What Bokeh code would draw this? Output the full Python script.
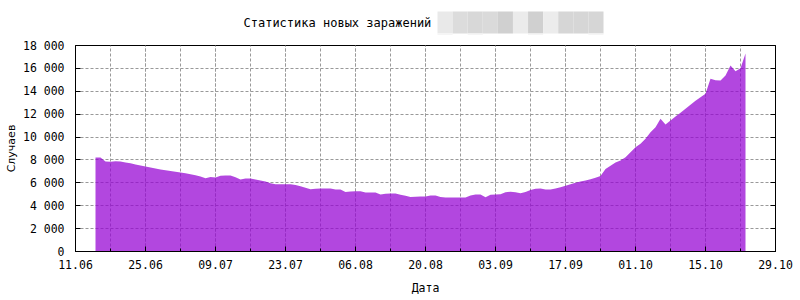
import pandas as pd
from bokeh.plotting import figure
from bokeh.layouts import column
from bokeh.core.properties import value
from bokeh.models import FixedTicker, DatetimeTickFormatter, Range1d, LinearAxis
from bokeh.embed import file_html
from bokeh.resources import INLINE

# ---- data ----
title_text = "Статистика новых заражений"
x_label = "Дата"
y_label = "Случаев"
first_date = "2020-06-15"
cases = [
    8210, 8210, 7870, 7840, 7890, 7870, 7780, 7720, 7600, 7515,
    7430, 7340, 7250, 7165, 7100, 7040, 6970, 6900, 6830, 6750,
    6660, 6560, 6400, 6520, 6470, 6620, 6640, 6640, 6480, 6290,
    6380, 6380, 6290, 6200, 6110, 5960, 5870, 5870, 5870, 5870,
    5800, 5700, 5570, 5440, 5480, 5500, 5500, 5500, 5420, 5420,
    5200, 5250, 5270, 5270, 5160, 5150, 5150, 4980, 5050, 5070,
    5070, 4950, 4870, 4760, 4780, 4800, 4800, 4890, 4890, 4760,
    4720, 4720, 4720, 4720, 4720, 4900, 4980, 4980, 4750, 4960,
    4980, 5000, 5180, 5220, 5180, 5100, 5200, 5380, 5480, 5500,
    5420, 5420, 5500, 5620, 5740, 5880, 6000, 6120, 6200, 6320,
    6440, 6600, 7200, 7500, 7780, 7950, 8240, 8680, 9100, 9410,
    9850, 10430, 10860, 11590, 11100, 11450, 11800, 12120, 12470, 12820,
    13170, 13480, 13780, 15090, 14970, 14940, 15380, 16250, 15760, 16020,
    17300,
]
x_start = "2020-06-11"
x_end = "2020-10-29"
y_max = 18000
y_step = 2000
redaction_greys = ["#e9e9e9", "#dcdcdc", "#d8d8d8", "#dadada", "#d0d0d0", "#ebebeb",
                   "#d0d0d0", "#ececec", "#d6d6d6", "#d6d6d6", "#d6d6d6"]
redaction_lower = [0, 2, 6, 10]

dates = pd.date_range(first_date, periods=len(cases), freq="D")
xs, xe = pd.Timestamp(x_start), pd.Timestamp(x_end)
major_x = [t.value // 10**6 for t in pd.date_range(xs, xe, freq="14D")]
minor_x = [t.value // 10**6 for t in pd.date_range(xs, xe, freq="7D")]
y_ticks = list(range(0, y_max + 1, y_step))
y_overrides = {v: f"{v:,}".replace(",", " ") for v in y_ticks}

MONO = "DejaVu Sans Mono"
FS = "11.5px"
GRID = "#999999"
HEAD_H = 35

# ---- header strip (title + redacted part); x in canvas pixels over frame 75..775 ----
top = figure(width=800, height=HEAD_H, x_range=Range1d(75, 775),
             y_range=Range1d(HEAD_H, 0),
             output_backend="svg", toolbar_location=None,
             min_border_left=75, min_border_right=25,
             min_border_top=0, min_border_bottom=0)
top.axis.visible = False
top.grid.visible = False
top.outline_line_color = None
top.background_fill_color = "white"
top.border_fill_color = "white"
top.text(x=[243], y=[22], text=[title_text], text_font=value(MONO),
         text_font_size=value("12px"), text_baseline="middle", text_align="left",
         text_color="black")
cell_w = 166.0 / len(redaction_greys)
lefts = [437 + i * cell_w for i in range(len(redaction_greys))]
top.quad(left=lefts, right=[l + cell_w for l in lefts], top=[11] * len(lefts),
         bottom=[33] * len(lefts), fill_color=redaction_greys, line_color=None)
low_l = [lefts[i] for i in redaction_lower]
top.quad(left=low_l, right=[l + cell_w for l in low_l], top=[33] * len(low_l),
         bottom=[HEAD_H] * len(low_l), fill_color="#f5f5f5", line_color=None)

# ---- main chart ----
p = figure(width=800, height=300 - HEAD_H, x_axis_type="datetime",
           x_range=Range1d(xs, xe), y_range=Range1d(0, y_max),
           output_backend="svg", toolbar_location=None,
           min_border_left=75, min_border_right=25,
           min_border_top=45 - HEAD_H, min_border_bottom=49)
p.background_fill_color = "white"
p.border_fill_color = "white"
p.outline_line_color = "black"
p.outline_line_width = 1
p.outline_line_alpha = 1

p.varea(x=dates, y1=0, y2=cases, fill_color="#9400d3", fill_alpha=0.72)

xt = FixedTicker(ticks=major_x, minor_ticks=minor_x)
yt = FixedTicker(ticks=y_ticks, minor_ticks=[])
fmt = "%d.%m"
p.xaxis.ticker = xt
p.xgrid.ticker = xt
p.xaxis.formatter = DatetimeTickFormatter(
    microseconds=fmt, milliseconds=fmt, seconds=fmt, minsec=fmt, minutes=fmt,
    hourmin=fmt, hours=fmt, days=fmt, months=fmt, years=fmt)
p.yaxis.ticker = yt
p.ygrid.ticker = yt
p.yaxis.major_label_overrides = y_overrides

for g in (p.xgrid, p.ygrid):
    g.grid_line_color = GRID
    g.grid_line_dash = "3 2"
    g.grid_line_width = 1
p.xgrid.minor_grid_line_color = GRID
p.xgrid.minor_grid_line_dash = "3 2"

for ax in (p.xaxis, p.yaxis):
    ax.major_label_text_font = MONO
    ax.major_label_text_font_size = FS
    ax.major_label_text_color = "black"
    ax.axis_line_color = "black"
    ax.major_tick_line_color = "black"
    ax.minor_tick_line_color = "black"
    ax.major_tick_in = 5
    ax.major_tick_out = 0
    ax.minor_tick_in = 3
    ax.minor_tick_out = 0
    ax.axis_label_text_font_style = "normal"
    ax.axis_label_text_color = "black"

p.xaxis.axis_label = x_label
p.xaxis.axis_label_text_font = MONO
p.xaxis.axis_label_text_font_size = FS
p.xaxis.major_label_standoff = 8
p.xaxis.axis_label_standoff = 9

p.yaxis.axis_label = y_label
p.yaxis.axis_label_text_font = "DejaVu Sans"
p.yaxis.axis_label_text_font_size = "11px"
p.yaxis.major_label_standoff = 11
p.yaxis.axis_label_standoff = 2

right = LinearAxis(ticker=yt, major_label_text_color=None, axis_line_color="black",
                   major_tick_in=5, major_tick_out=0, minor_tick_line_color=None,
                   major_label_text_font_size="1px")
p.add_layout(right, "right")

layout = column(top, p, spacing=0)
open("out.html", "w").write(file_html(layout, INLINE))
